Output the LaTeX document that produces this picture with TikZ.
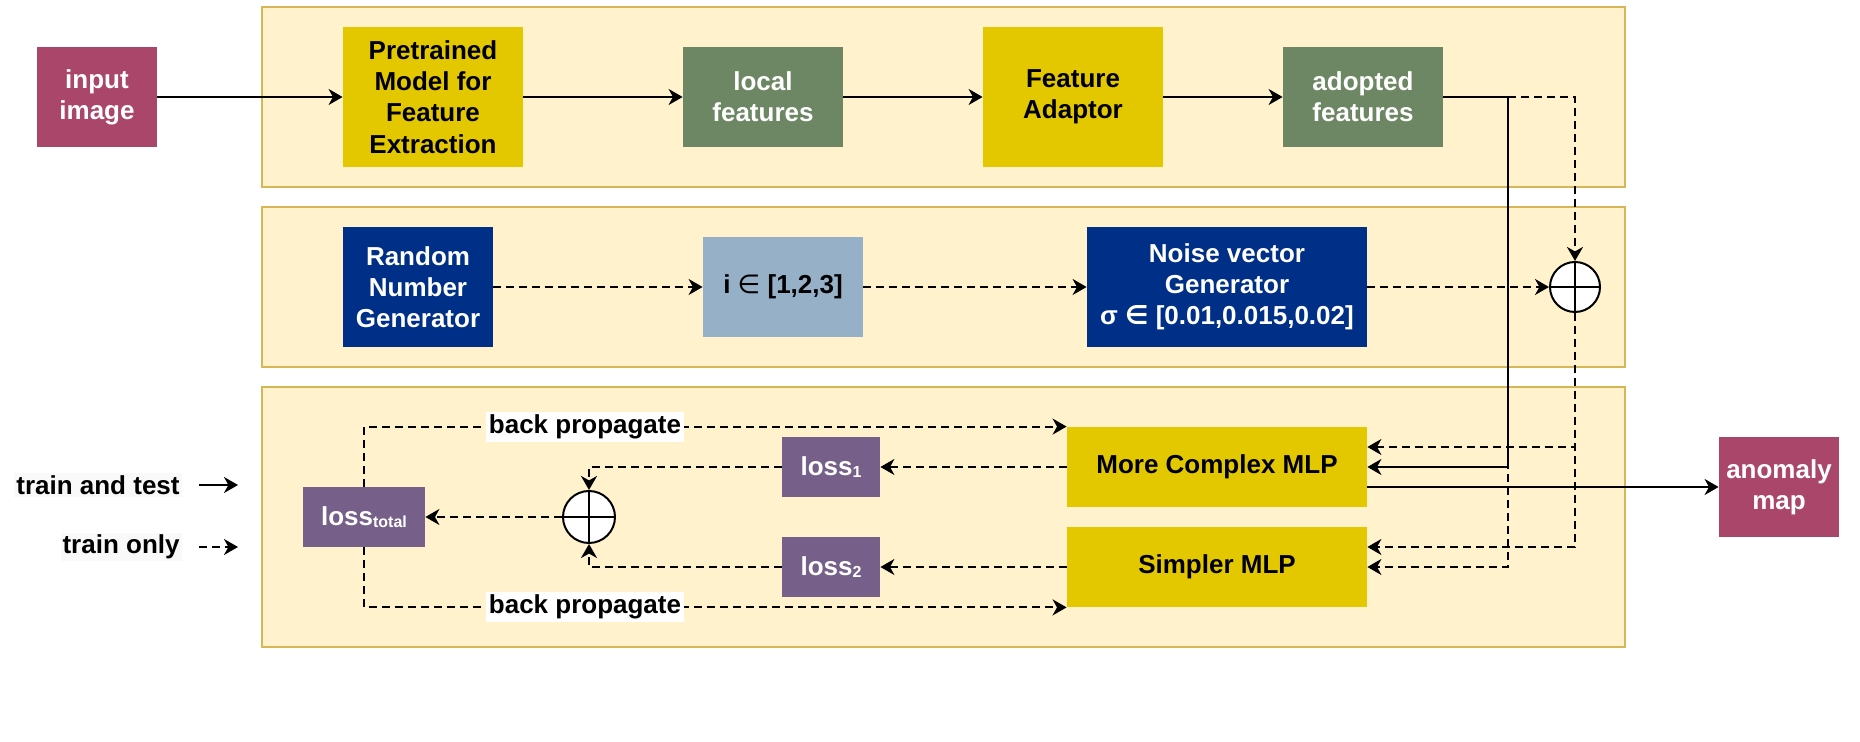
\documentclass[tikz,border=0pt]{standalone}
\usepackage{fontspec}
\setmainfont{Liberation Sans}
\newfontfamily\symfont{DejaVu Sans}
\usetikzlibrary{arrows.meta}
\definecolor{panelfill}{HTML}{FFF2CC}
\definecolor{paneldraw}{HTML}{D6B656}
\definecolor{cred}{HTML}{AB466B}
\definecolor{cyel}{HTML}{E3C800}
\definecolor{cgrn}{HTML}{6D8764}
\definecolor{cnavy}{HTML}{002F87}
\definecolor{clb}{HTML}{96B0C8}
\definecolor{cpur}{HTML}{76608A}
\definecolor{legbg}{HTML}{F9F9F9}
\begin{document}
\begin{tikzpicture}[x=0.5pt,y=-0.5pt,
  every node/.style={font=\fontsize{13}{15.6}\selectfont\bfseries},
  panel/.style={draw=paneldraw, fill=panelfill, line width=1.2pt},
  box/.style={rectangle, inner sep=0pt, align=center},
  redbox/.style={box, fill=cred, text=white, minimum width=60pt, minimum height=50pt},
  yelbox/.style={box, fill=cyel, text=black},
  grnbox/.style={box, fill=cgrn, text=white, minimum width=80pt, minimum height=50pt},
  navbox/.style={box, fill=cnavy, text=white},
  purbox/.style={box, fill=cpur, text=white, minimum height=30pt},
  opl/.style={circle, draw=black, fill=white, line width=1pt, inner sep=0pt},
  arr/.style={-{Stealth[length=7pt,width=8pt,inset=2.2pt]}, line width=1pt},
  dsh/.style={arr, dash pattern=on 4pt off 2.5pt},
  bplabel/.style={fill=white, inner sep=1.5pt},
  legtext/.style={anchor=east, fill=legbg, inner sep=1pt}]
\useasboundingbox (0,0) rectangle (1860,742);
% panels
\draw[panel] (262,7) rectangle (1625,187);
\draw[panel] (262,207) rectangle (1625,367);
\draw[panel] (262,387) rectangle (1625,647);
% top row
\node[redbox] (inp) at (97,97) {input\\image};
\node[yelbox, minimum width=90pt, minimum height=70pt] (pre) at (433,97) {Pretrained\\Model for\\Feature\\Extraction};
\node[grnbox] (loc) at (763,97) {local\\features};
\node[yelbox, minimum width=90pt, minimum height=70pt] (ada) at (1073,97) {Feature\\Adaptor};
\node[grnbox] (adp) at (1363,97) {adopted\\features};
% middle row
\node[navbox, minimum width=75pt, minimum height=60pt] (rng) at (418,287) {Random\\Number\\Generator};
\node[box, fill=clb, minimum width=80pt, minimum height=50pt] (idx) at (783,287) {i {\symfont\mdseries ∈} [1,2,3]};
\node[navbox, minimum width=140pt, minimum height=60pt] (noi) at (1227,287) {Noise vector\\Generator\\σ {\symfont ∈} [0.01,0.015,0.02]};
\node[opl, minimum size=25pt] (op1) at (1575,287) {};
\draw[line width=1pt] (op1.north) -- (op1.south) (op1.west) -- (op1.east);
% bottom row
\node[yelbox, minimum width=150pt, minimum height=40pt] (mlp1) at (1217,467) {More Complex MLP};
\node[yelbox, minimum width=150pt, minimum height=40pt] (mlp2) at (1217,567) {Simpler MLP};
\node[purbox, minimum width=49pt] (ls1) at (831,467) {loss\raisebox{-1pt}{\fontsize{8}{8}\selectfont 1}};
\node[purbox, minimum width=49pt] (ls2) at (831,567) {loss\raisebox{-1pt}{\fontsize{8}{8}\selectfont 2}};
\node[purbox, minimum width=61pt] (lst) at (364,517) {loss\raisebox{-1pt}{\fontsize{8}{8}\selectfont total}};
\node[opl, minimum size=26pt] (op2) at (589,517) {};
\draw[line width=1pt] (op2.north) -- (op2.south) (op2.west) -- (op2.east);
\node[redbox] (anom) at (1779,487) {anomaly\\map};
% legend
\node[legtext] (lg1) at (182,485) {train and test};
\node[legtext] (lg2) at (182,547) {train only};
\coordinate (la1) at (199,485);
\coordinate (lb1) at (238,485);
\coordinate (la2) at (199,547);
\coordinate (lb2) at (238,547);
\draw[arr] (la1) -- (lb1);
\draw[dsh] (la2) -- (lb2);
% top connectors
\draw[arr] (inp.east) -- (pre.west);
\draw[arr] (pre.east) -- (loc.west);
\draw[arr] (loc.east) -- (ada.west);
\draw[arr] (ada.east) -- (adp.west);
\coordinate (jx) at (1508,97);
\draw[dsh] (adp.east) -| (op1.north);
\draw[dsh] (adp.east) -- (jx) |- (mlp2.east);
\draw[arr] (adp.east) -- (jx) |- (mlp1.east);
% middle connectors
\draw[dsh] (rng.east) -- (idx.west);
\draw[dsh] (idx.east) -- (noi.west);
\draw[dsh] (noi.east) -- (op1.west);
% noise to MLPs
\draw[dsh] (op1.south) |- ([yshift=10pt]mlp1.east);
\draw[dsh] (op1.south) |- ([yshift=10pt]mlp2.east);
% output
\draw[arr] ([yshift=-10pt]mlp1.east) -- (anom.west);
% losses
\draw[dsh] (mlp1.west) -- (ls1.east);
\draw[dsh] (mlp2.west) -- (ls2.east);
\draw[dsh] (ls1.west) -| (op2.north);
\draw[dsh] (ls2.west) -| (op2.south);
\draw[dsh] (op2.west) -- (lst.east);
\draw[dsh] (lst.north) |- (mlp1.north west);
\draw[dsh] (lst.south) |- (mlp2.south west);
\node[bplabel] (bp1) at (585,427) {back propagate};
\node[bplabel] (bp2) at (585,607) {back propagate};
\end{tikzpicture}
\end{document}
